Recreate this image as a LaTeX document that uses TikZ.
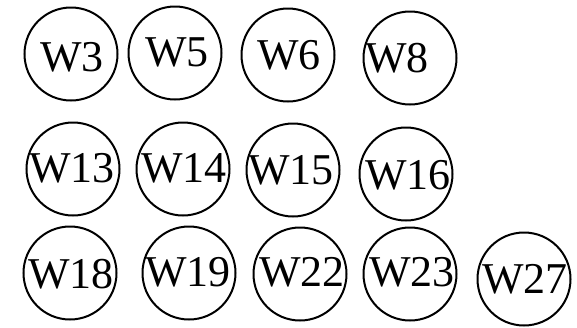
\documentclass[tikz,border=0pt]{standalone}
\usepackage{fontspec}
\setmainfont{Liberation Serif}
\usetikzlibrary{positioning}

\begin{document}
\begin{tikzpicture}[
    x=1pt, y=-1pt,
    ring/.style={draw, circle, line width=2pt, minimum size=93pt, inner sep=0pt},
    wlabel/.style={inner sep=0pt, font=\fontsize{44}{52}\selectfont}
  ]
    \useasboundingbox (0,0) rectangle (577,327);
    % first row
    \node[ring] (r3) at (71,54) {};
    \node[wlabel] (w3) at (72,57) {W3};
    \node[ring] (r5) at (175,53) {};
    \node[wlabel] (w5) at (177,52) {W5};
    \node[ring] (r6) at (288,55) {};
    \node[wlabel] (w6) at (289,55) {W6};
    \node[ring] (r8) at (410,58) {};
    \node[wlabel] (w8) at (397,58) {W8};
    % second row
    \node[ring] (r13) at (73,169) {};
    \node[wlabel] (w13) at (72,168) {W13};
    \node[ring] (r14) at (183,169) {};
    \node[wlabel] (w14) at (184,168) {W14};
    \node[ring] (r15) at (293,170) {};
    \node[wlabel] (w15) at (291,170) {W15};
    \node[ring] (r16) at (406,174) {};
    \node[wlabel] (w16) at (408,175) {W16};
    % third row
    \node[ring] (r18) at (70,273) {};
    \node[wlabel] (w18) at (71,274) {W18};
    \node[ring] (r19) at (189,273) {};
    \node[wlabel] (w19) at (188,272) {W19};
    \node[ring] (r22) at (300,274) {};
    \node[wlabel] (w22) at (302,272) {W22};
    \node[ring] (r23) at (410,274) {};
    \node[wlabel] (w23) at (412,272) {W23};
    \node[ring] (r27) at (524,279) {};
    \node[wlabel] (w27) at (525,279) {W27};
\end{tikzpicture}
\end{document}
